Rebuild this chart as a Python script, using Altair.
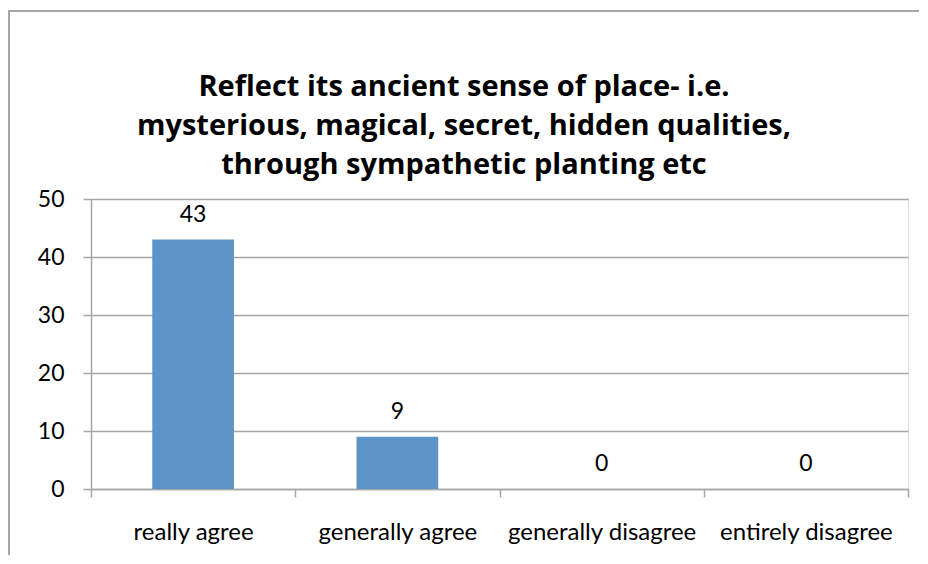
import altair as alt
import pandas as pd

categories = ["really agree", "generally agree", "generally disagree", "entirely disagree"]
values = [43, 9, 0, 0]
title_lines = [
    "Reflect its ancient sense of place- i.e.",
    "mysterious, magical, secret, hidden qualities,",
    "through sympathetic planting etc",
]

df = pd.DataFrame({"category": categories, "value": values})

FONT = "Lato"
TITLE_FONT = "Open Sans"
GRAY = "#a6a6a6"

x_enc = alt.X(
    "category:N",
    sort=categories,
    scale=alt.Scale(paddingInner=0, paddingOuter=0),
    axis=alt.Axis(
        title=None,
        labelAngle=0,
        tickBand="extent",
        tickSize=8,
        tickColor=GRAY,
        tickWidth=1.5,
        domainColor=GRAY,
        domainWidth=1.5,
        labelFont=FONT,
        labelFontSize=24,
        labelLimit=400,
        labelColor="#000000",
        labelBaseline="alphabetic",
        labelPadding=42,
        grid=False,
    ),
)
y_enc = alt.Y(
    "value:Q",
    scale=alt.Scale(domain=[0, 50]),
    axis=alt.Axis(
        title=None,
        values=[0, 10, 20, 30, 40, 50],
        tickSize=8,
        tickColor=GRAY,
        tickWidth=1.5,
        domainColor=GRAY,
        domainWidth=1.5,
        gridColor=GRAY,
        gridWidth=1.5,
        labelFont=FONT,
        labelFontSize=23,
        labelColor="#000000",
        labelPadding=19,
    ),
)

base = alt.Chart(df)

bars = base.mark_bar(color="#5E95C9", width=alt.RelativeBandSize(0.4)).encode(x=x_enc, y=y_enc)

labels = base.mark_text(
    font=FONT, fontSize=23, color="#000000", baseline="alphabetic", dy=-18
).encode(x=alt.X("category:N", sort=categories), y="value:Q", text="value:Q")

border_df = pd.DataFrame({"k": [0]})
left_border = alt.Chart(border_df).mark_rule(color=GRAY, strokeWidth=2).encode(
    x=alt.value(-82), y=alt.value(-188), y2=alt.value(380)
)
top_border = alt.Chart(border_df).mark_rule(color=GRAY, strokeWidth=2).encode(
    x=alt.value(-83), x2=alt.value(837), y=alt.value(-188)
)

chart = (
    alt.layer(bars, labels, left_border, top_border)
    .properties(
        width=817,
        height=290,
        title=alt.TitleParams(
            text=title_lines,
            font=TITLE_FONT,
            fontSize=29,
            fontWeight="bold",
            color="#000000",
            lineHeight=39,
            anchor="middle",
            frame="group",
            dx=-35.5,
            dy=170,
            offset=0,
        ),
        autosize=alt.AutoSizeParams(type="none"),
        padding={"left": 83, "top": 191, "right": 11, "bottom": 66},
    )
    .configure_view(stroke=None)
    .configure(background="white")
)

chart.save("out.html", embed_options={"renderer": "svg", "actions": False})
